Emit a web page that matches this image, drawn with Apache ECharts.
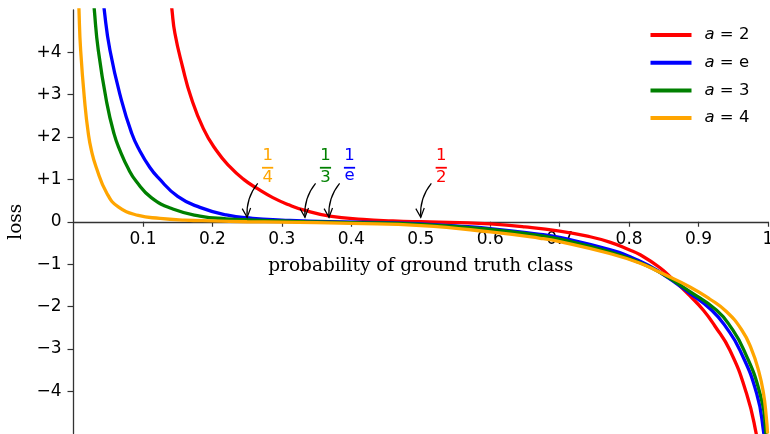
<!DOCTYPE html>
<html>
<head>
<meta charset="utf-8">
<script src="https://cdn.jsdelivr.net/npm/echarts@6/dist/echarts.min.js"></script>
<style>
html,body{margin:0;padding:0;background:#fff;}
#chart{width:770px;height:434px;}
</style>
</head>
<body>
<div id="chart"></div>
<script>
// ---- data ----
const seriesNames = ['a = 2', 'a = e', 'a = 3', 'a = 4'];
const seriesColors = ['#ff0000', '#0000ff', '#008000', '#ffa500'];

const lossA2 = [[0.138,5.6],[0.1418,5.0],[0.146,4.45],[0.157,3.66],[0.169,2.95],[0.187,2.2],[0.205,1.7],[0.225,1.3],[0.245,1.0],[0.265,0.78],[0.287,0.57],[0.31,0.4],[0.331,0.28],[0.369,0.135],[0.417,0.056],[0.46,0.02],[0.5,0.0],[0.556,-0.02],[0.6,-0.05],[0.65,-0.12],[0.7,-0.22],[0.74,-0.34],[0.772,-0.48],[0.8,-0.66],[0.816,-0.78],[0.844,-1.08],[0.863,-1.36],[0.8876,-1.75],[0.907,-2.09],[0.923,-2.45],[0.945,-3.03],[0.969,-4.05],[0.983,-5.0],[0.987,-5.5]];
const lossAe = [[0.0425,5.4],[0.0443,5.0],[0.0525,4.05],[0.069,2.87],[0.0838,2.09],[0.095,1.69],[0.110,1.28],[0.122,1.04],[0.150,0.6],[0.182,0.34],[0.22,0.16],[0.258,0.08],[0.3,0.04],[0.368,0.0],[0.45,-0.02],[0.5,-0.05],[0.55,-0.1],[0.6,-0.16],[0.672,-0.3],[0.7,-0.37],[0.772,-0.66],[0.816,-0.93],[0.845,-1.2],[0.8876,-1.69],[0.919,-2.09],[0.94,-2.5],[0.9595,-3.03],[0.9836,-4.05],[0.994,-5.0],[0.996,-5.4]];
const lossA3 = [[0.0285,5.4],[0.030,5.0],[0.0357,4.05],[0.0478,2.82],[0.0583,2.08],[0.067,1.68],[0.079,1.25],[0.0905,0.95],[0.112,0.57],[0.143,0.3],[0.182,0.135],[0.22,0.07],[0.26,0.04],[0.3,0.02],[0.333,0.0],[0.4,-0.02],[0.5,-0.06],[0.6,-0.18],[0.672,-0.33],[0.7,-0.41],[0.772,-0.71],[0.816,-0.97],[0.845,-1.2],[0.8876,-1.65],[0.926,-2.09],[0.947,-2.5],[0.9653,-3.03],[0.9883,-4.05],[0.997,-5.0],[0.998,-5.4]];
const lossA4 = [[0.0072,5.5],[0.0079,5.0],[0.0103,4.05],[0.0166,2.75],[0.0213,2.09],[0.0257,1.69],[0.0324,1.30],[0.0478,0.68],[0.0645,0.35],[0.0933,0.15],[0.1245,0.08],[0.16,0.04],[0.2,0.02],[0.25,0.0],[0.3,-0.01],[0.4,-0.04],[0.5,-0.09],[0.6,-0.24],[0.672,-0.39],[0.7,-0.47],[0.772,-0.75],[0.816,-0.98],[0.845,-1.2],[0.8876,-1.54],[0.9165,-1.83],[0.94,-2.12],[0.962,-2.55],[0.976,-3.0],[0.987,-3.55],[0.9935,-4.05],[0.9975,-4.6],[0.9994,-5.0]];
const seriesData = [lossA2, lossAe, lossA3, lossA4];

const xTicks = [0.1,0.2,0.3,0.4,0.5,0.6,0.7,0.8,0.9,1.0];
const xTickLabels = ['0.1','0.2','0.3','0.4','0.5','0.6','0.7','0.8','0.9','1'];
const yTicks = [-4,-3,-2,-1,0,1,2,3,4];
const yTickLabels = ['\u22124','\u22123','\u22122','\u22121','0','+1','+2','+3','+4'];

const annotTargets = [0.25, 0.3333, 0.3679, 0.5];
const annotNum = ['1','1','1','1'];
const annotDen = ['4','3','e','2'];
const annotColors = ['#ffa500', '#008000', '#0000ff', '#ff0000'];

// ---- chart ----
const chart = echarts.init(document.getElementById('chart'), null, {renderer:'canvas'});
const axisColor = '#333';
const FONT = 'DejaVu Sans';
const GRID_TOP = 10, GRID_BOTTOM = 0.5, CHART_H = 434;
const Y_MIN = -5, Y_MAX = 5;
// offset that moves the bottom x axis up to y = 0 of the value scale
const plotH = CHART_H - GRID_TOP - GRID_BOTTOM;
const xAxisOffset = -plotH * (0 - Y_MIN) / (Y_MAX - Y_MIN);

function renderAnnot(params, api) {
  const i = api.value(2);
  const c = api.coord([api.value(0), api.value(1)]);
  const color = annotColors[i];
  const tip = [c[0], c[1] - 4.4];
  const st = [c[0] + 10.6, c[1] - 38.4];
  const dx = tip[0] - st[0], dy = tip[1] - st[1];
  const cp = [(st[0] + tip[0]) / 2 - 0.2 * dy, (st[1] + tip[1]) / 2 + 0.2 * dx];
  let ux = tip[0] - cp[0], uy = tip[1] - cp[1];
  const n = Math.hypot(ux, uy); ux /= n; uy /= n;
  const L = 10, ang = 25 * Math.PI / 180;
  const rot = (a) => [ux * Math.cos(a) - uy * Math.sin(a), ux * Math.sin(a) + uy * Math.cos(a)];
  const r1 = rot(ang), r2 = rot(-ang);
  const w1 = [tip[0] - L * r1[0], tip[1] - L * r1[1]];
  const w2 = [tip[0] - L * r2[0], tip[1] - L * r2[1]];
  const tx = c[0] + 20.5;
  const denY = annotDen[i] === 'e' ? c[1] - 46 : c[1] - 44.2;
  return {
    type: 'group',
    children: [
      {type:'bezierCurve', shape:{x1:st[0], y1:st[1], x2:tip[0], y2:tip[1], cpx1:cp[0], cpy1:cp[1]}, style:{stroke:'#000', fill:null, lineWidth:1.2}},
      {type:'polyline', shape:{points:[w1, tip, w2]}, style:{stroke:'#000', fill:null, lineWidth:1.2}},
      {type:'text', style:{text:annotNum[i], x:tx, y:c[1] - 65.9, fill:color, font:'16.5px "DejaVu Sans"', align:'center', verticalAlign:'middle'}},
      {type:'line', shape:{x1:tx - 5.6, y1:c[1] - 54, x2:tx + 5.6, y2:c[1] - 54}, style:{stroke:color, lineWidth:1.8}},
      {type:'text', style:{text:annotDen[i], x:tx, y:denY, fill:color, font:'16.5px "DejaVu Sans"', align:'center', verticalAlign:'middle'}}
    ]
  };
}

const series = seriesNames.map((name, i) => ({
  name: name,
  type: 'line',
  data: seriesData[i],
  showSymbol: false,
  smooth: 0.5,
  color: seriesColors[i],
  lineStyle: {color: seriesColors[i], width: 3.3},
  itemStyle: {color: seriesColors[i]},
  emphasis: {disabled: true},
  clip: true,
  z: 2 + i
}));
series.push({
  type: 'custom',
  name: 'annotations',
  data: annotTargets.map((t, i) => [t, 0, i]),
  encode: {x: 0, y: 1},
  renderItem: renderAnnot,
  silent: true,
  clip: false,
  z: 10
});

chart.setOption({
  animation: false,
  backgroundColor: '#fff',
  grid: {left: 73.5, right: 2, top: GRID_TOP, bottom: GRID_BOTTOM, containLabel: false, outerBoundsMode: 'none'},
  xAxis: {
    type: 'value', min: 0, max: 1, position: 'bottom', offset: xAxisOffset,
    name: 'probability of ground truth class', nameLocation: 'middle', nameGap: 35,
    nameTextStyle: {fontFamily: 'DejaVu Serif', fontSize: 18.5, color: '#000'},
    axisLine: {show: true, onZero: false, lineStyle: {color: axisColor, width: 1.3}},
    axisTick: {show: true, length: 5, customValues: xTicks, lineStyle: {color: axisColor, width: 1.2}},
    axisLabel: {show: true, customValues: xTicks, margin: 9, fontFamily: FONT, fontSize: 17, color: '#000',
      formatter: v => xTickLabels[xTicks.findIndex(t => Math.abs(t - v) < 1e-6)] || ''},
    splitLine: {show: false}
  },
  yAxis: {
    type: 'value', min: Y_MIN, max: Y_MAX,
    name: 'loss', nameLocation: 'middle', nameGap: 40,
    nameTextStyle: {fontFamily: 'DejaVu Serif', fontSize: 18.5, color: '#000'},
    axisLine: {show: true, onZero: false, lineStyle: {color: axisColor, width: 1.3}},
    axisTick: {show: true, length: 6, customValues: yTicks, lineStyle: {color: axisColor, width: 1.2}},
    axisLabel: {customValues: yTicks, margin: 12, fontFamily: FONT, fontSize: 17, color: '#000',
      formatter: v => yTickLabels[yTicks.findIndex(t => Math.abs(t - v) < 1e-6)] || ''},
    splitLine: {show: false}
  },
  legend: {
    orient: 'vertical', left: 650.5, top: 26, padding: 0, itemGap: 9.7,
    itemWidth: 41, itemHeight: 4, icon: 'rect', selectedMode: false,
    data: seriesNames,
    formatter: n => '{i|a}' + n.slice(1),
    textStyle: {fontFamily: FONT, fontSize: 16.5, color: '#000', lineHeight: 18, padding: [0, 0, 0, 8],
      rich: {i: {fontStyle: 'italic', fontFamily: FONT, fontSize: 16.5, color: '#000', lineHeight: 18}}}
  },
  series: series
});
</script>
</body>
</html>
